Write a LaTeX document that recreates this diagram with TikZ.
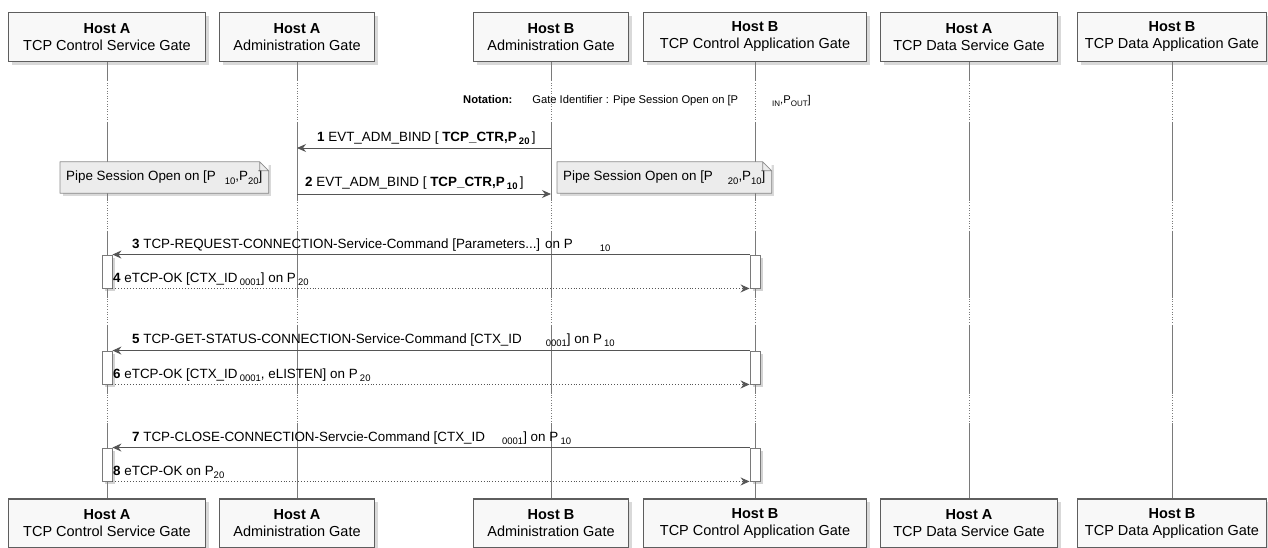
\documentclass[tikz,border=0pt]{standalone}
\usepackage{fontspec}
\setmainfont{Liberation Sans}
\usetikzlibrary{arrows.meta,shadows}
\definecolor{edgegray}{HTML}{5E5E5E}
\definecolor{boxfill}{HTML}{F8F8F8}
\definecolor{notefill}{HTML}{ECECEC}
\definecolor{notedge}{HTML}{8A8A8A}
\definecolor{linegray}{HTML}{555555}
\definecolor{lifegray}{HTML}{7A7A7A}
\newcommand{\lowidx}[2][9.5]{\raisebox{-3.5pt}{\fontsize{#1}{#1}\selectfont #2}}
\begin{document}
\begin{tikzpicture}[x=1pt,y=-1pt,
  gate/.style={draw=edgegray,fill=boxfill,line width=1.1pt,minimum height=49pt,inner sep=0pt,align=center,
    font=\fontsize{14.5}{17}\selectfont,drop shadow={shadow xshift=3pt,shadow yshift=-3pt,opacity=.3}},
  life/.style={lifegray,line width=.8pt},
  lifedots/.style={lifegray,line width=.6pt,dotted},
  actbar/.style={draw=lifegray,fill=white,line width=.9pt,minimum width=10pt,minimum height=33pt,inner sep=0pt,
    drop shadow={shadow xshift=3pt,shadow yshift=-3pt,opacity=.35}},
  msg/.style={anchor=base west,inner sep=0pt,font=\fontsize{13.4}{15}\selectfont},
  call/.style={linegray,line width=.9pt,-{Stealth[length=9pt,width=8pt,inset=3pt]}},
  reply/.style={call,dotted},
  notebox/.style={fill=notefill,anchor=west,inner xsep=6pt,inner ysep=0pt,minimum height=31pt,
    font=\fontsize{13.4}{15}\selectfont,drop shadow={shadow xshift=3pt,shadow yshift=-3pt,opacity=.3}}]
\useasboundingbox (0,0) rectangle (1268,547);
% participants, top and bottom, with their lifelines
\foreach \n/\x/\w/\h/\g in {ctlsrv/107/197/A/TCP Control Service Gate,adma/297/155/A/Administration Gate,
    admb/551/155/B/Administration Gate,ctlapp/755/223/B/TCP Control Application Gate,
    datsrv/969/177/A/TCP Data Service Gate,datapp/1172/189/B/TCP Data Application Gate}{
  \node[gate,minimum width=\w pt] (\n-top) at (\x,37) {\textbf{Host \h}\\\g};
  \node[gate,minimum width=\w pt] (\n-bot) at (\x,523.5) {\textbf{Host \h}\\\g};
  \draw[lifedots] (\n-top) -- (\n-bot);
  \draw[life,dash pattern=on 18.5pt off 42pt on 78pt off 30pt on 67pt off 28pt on 68pt off 30pt on 76pt off 60pt] (\n-top) -- (\n-bot);
}
\node[anchor=base west,inner sep=0pt,font=\fontsize{11.2}{13}\selectfont] (notation) at (463,103)
  {\textbf{Notation:}\hspace{20pt}Gate Identifier : Pipe Session Open on [P\hspace{34pt}\lowidx[8]{IN},P\lowidx[8]{OUT}]};
% binding of the pipe
\coordinate (m1a) at (551,148); \coordinate (m1b) at (297,148);
\coordinate (m2a) at (297,194); \coordinate (m2b) at (551,194);
\draw[call] (m1a) -- (m1b);
\draw[call] (m2a) -- (m2b);
\node[msg] (t1) at (317,141) {\textbf{1} EVT\_ADM\_BIND [ \textbf{TCP\_CTR,P}\,\lowidx{\textbf{20}}\,]};
\node[msg] (t2) at (305,186) {\textbf{2} EVT\_ADM\_BIND [ \textbf{TCP\_CTR,P}\,\lowidx{\textbf{10}}\,]};
\node[notebox] (n1) at (60,177.5) {Pipe Session Open on [P\hspace{9pt}\lowidx{10},P\lowidx{20}]\hspace{10pt}};
\node[notebox] (n2) at (557,177.5) {Pipe Session Open on [P\hspace{15pt}\lowidx{20},P\lowidx{10}]\hspace{10pt}};
\foreach \n in {n1,n2}{
  \fill[white] ([xshift=-9pt]\n.north east) -- (\n.north east) -- ([yshift=-9pt]\n.north east) -- cycle;
  \draw[notedge,line width=.8pt,line join=round] (\n.north west) -- ([xshift=-9pt]\n.north east) -- ([yshift=-9pt]\n.north east)
    -- (\n.south east) -- (\n.south west) -- cycle ([xshift=-9pt]\n.north east) |- ([yshift=-9pt]\n.north east);
}
% activations
\foreach \k/\y in {1/271.5,2/367.5,3/464.5}{
  \node[actbar] (bl\k) at (107,\y) {};
  \node[actbar] (br\k) at (755,\y) {};
}
\draw[call] (br1.north west) -- (bl1.north east);
\draw[reply] (bl1.south east) -- (br1.south west);
\draw[call] (br2.north west) -- (bl2.north east);
\draw[reply] (bl2.south east) -- (br2.south west);
\draw[call] (br3.north west) -- (bl3.north east);
\draw[reply] (bl3.south east) -- (br3.south west);
\node[msg] (t3) at (132,248) {\textbf{3} TCP-REQUEST-CONNECTION-Service-Command [Parameters...] on P\hspace{27pt}\lowidx{10}};
\node[msg] (t4) at (113,282) {\textbf{4} eTCP-OK [CTX\_ID\,\lowidx{0001}] on P\,\lowidx{20}};
\node[msg] (t5) at (132,343) {\textbf{5} TCP-GET-STATUS-CONNECTION-Service-Command [CTX\_ID\hspace{24pt}\lowidx{0001}] on P\,\lowidx{10}};
\node[msg] (t6) at (113,378) {\textbf{6} eTCP-OK [CTX\_ID\,\lowidx{0001}, eLISTEN] on P\,\lowidx{20}};
\node[msg] (t7) at (132,441) {\textbf{7} TCP-CLOSE-CONNECTION-Servcie-Command [CTX\_ID\hspace{17pt}\lowidx{0001}] on P\,\lowidx{10}};
\node[msg] (t8) at (113,475) {\textbf{8} eTCP-OK on P\lowidx{20}};
\end{tikzpicture}
\end{document}
